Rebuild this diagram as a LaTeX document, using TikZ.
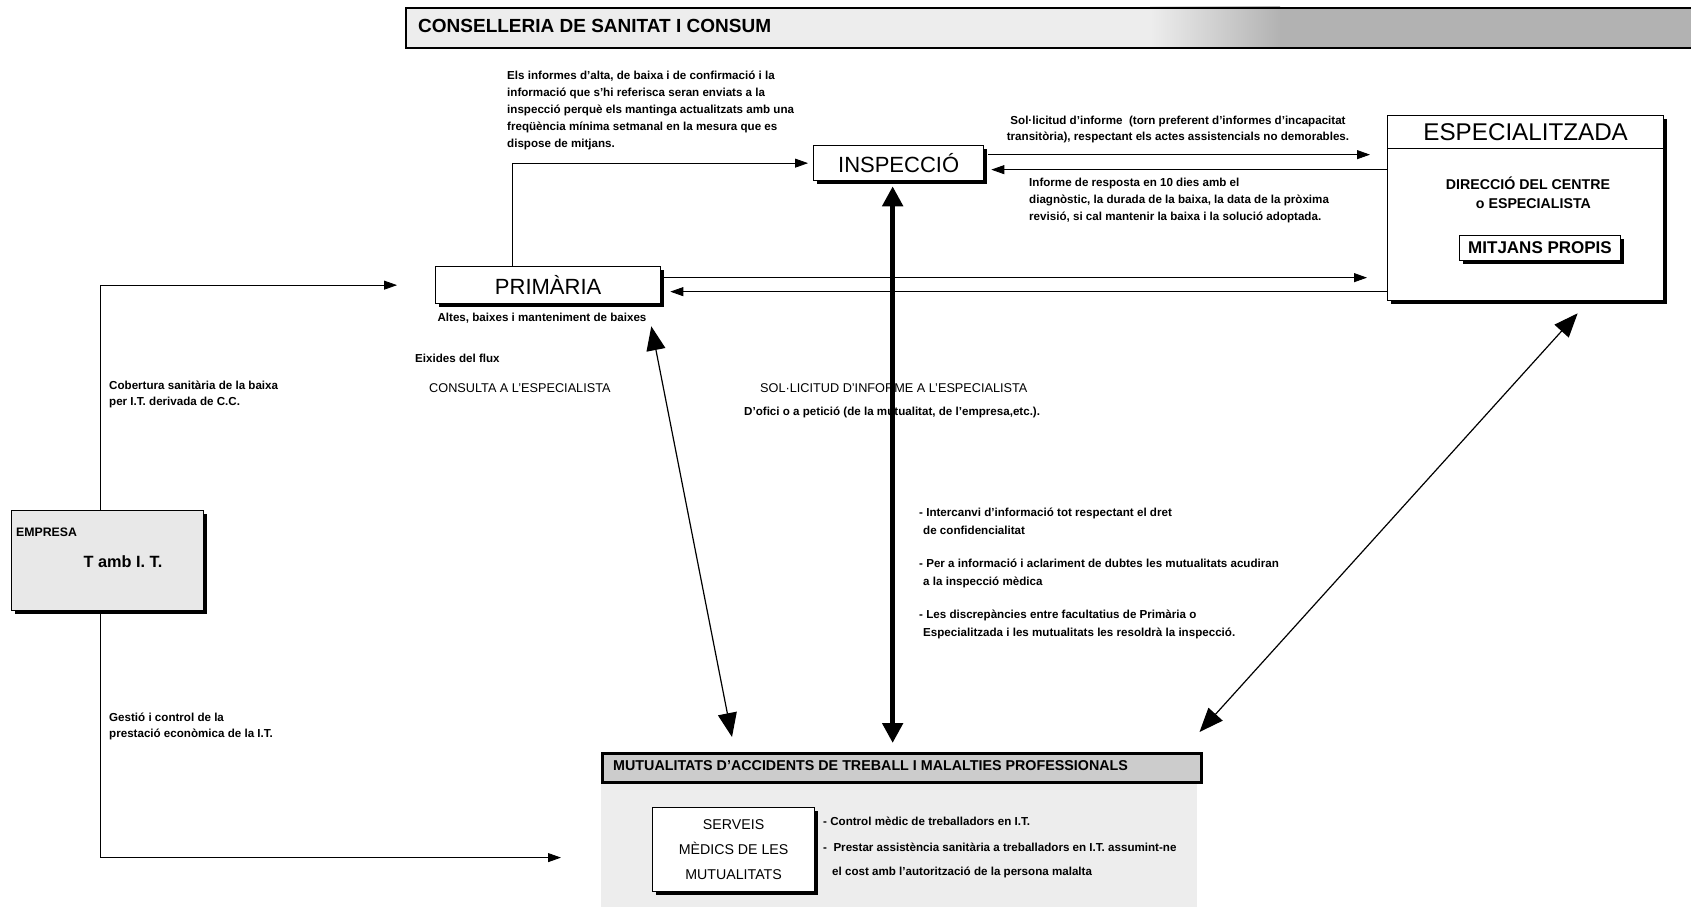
\documentclass[tikz,border=0pt]{standalone}
\usepackage{fontspec}
\setmainfont{Liberation Sans}
\usetikzlibrary{arrows.meta,shadows,calc}
\begin{document}
\begin{tikzpicture}[x=1pt,y=-1pt,
  txt/.style={font=\fontsize{11.6}{17}\selectfont\bfseries, inner sep=0pt, align=left},
  caps/.style={font=\fontsize{12.7}{14}\selectfont, inner sep=0pt},
  shadowed/.style={drop shadow={shadow xshift=3pt, shadow yshift=-3pt, fill=black, opacity=1}},
  bigbox/.style={draw, line width=1.3pt, fill=white, inner sep=0pt, anchor=north west, shadowed},
  arr/.style={-{Triangle[length=13pt,width=9pt]}, line width=0.8pt},
  darr/.style={{Triangle[length=24pt,width=19pt]}-{Triangle[length=24pt,width=19pt]}, line width=1.2pt},
  tarr/.style={{Triangle[length=20pt,width=20pt]}-{Triangle[length=20pt,width=20pt]}, line width=5pt},
]
\useasboundingbox[fill=white] (0,0) rectangle (1691,907);

% ---- top banner
\fill[gray!14] (405,7) rectangle (1691,47);
\shade[left color=gray!14, right color=gray!60] (1150,7) rectangle (1280,47);
\fill[gray!60] (1280,7) rectangle (1691,47);
\node[draw, line width=2pt, anchor=north west, minimum width=1290pt, minimum height=40pt, inner sep=0pt] (cons) at (405,7) {};
\node[font=\fontsize{19}{20}\selectfont\bfseries, anchor=west, inner sep=0pt] (consT) at (418,26) {CONSELLERIA DE SANITAT I CONSUM};

% ---- mutualitats area
\fill[gray!14] (601,781) rectangle (1197,907);
\node[draw, line width=2.5pt, fill=gray!40, anchor=north west, minimum width=599pt, minimum height=29pt, inner sep=0pt] (mut) at (601,752) {};
\node[font=\fontsize{14.3}{15}\selectfont\bfseries, anchor=west, inner sep=0pt] (mutT) at (613,766) {MUTUALITATS D'ACCIDENTS DE TREBALL I MALALTIES PROFESSIONALS};

% ---- boxes
\node[bigbox, minimum width=225pt, minimum height=37pt, font=\fontsize{22}{22}\selectfont] (prim) at (435,266) {PRIMÀRIA};
\node[bigbox, minimum width=170pt, minimum height=35pt, font=\fontsize{22}{22}\selectfont] (insp) at (813,145) {INSPECCIÓ};
\node[bigbox, minimum width=276pt, minimum height=185pt] (esp) at (1387,115) {};
\node[anchor=north, minimum height=33pt, inner sep=0pt, font=\fontsize{24.2}{25}\selectfont] (espT) at (esp.north) {ESPECIALITZADA};
\draw[line width=1pt] (esp.west |- espT.south) -- (esp.east |- espT.south);
\node[font=\fontsize{14.2}{19}\selectfont\bfseries, align=left, inner sep=0pt] (dir) at (1528,193) {DIRECCIÓ DEL CENTRE\\\hspace*{30pt}o ESPECIALISTA};
\node[bigbox, minimum width=161pt, minimum height=25pt, font=\fontsize{17}{17}\selectfont\bfseries, line width=1pt] (mit) at (1459,235) {MITJANS PROPIS};
\node[bigbox, fill=gray!18, minimum width=192pt, minimum height=100pt] (emp) at (11,510) {};
\node[font=\fontsize{12.3}{13}\selectfont\bfseries, anchor=west, inner sep=0pt] (empT) at (16,532) {EMPRESA};
\node[font=\fontsize{16.3}{17}\selectfont\bfseries, inner sep=0pt] (tamb) at (123,562) {T amb I. T.};
\node[bigbox, minimum width=162pt, minimum height=84pt, font=\fontsize{14.2}{25.5}\selectfont, align=center, line width=1.2pt] (serv) at (652,807) {SERVEIS\\MÈDICS DE LES\\MUTUALITATS};

% ---- texts
\node[txt, anchor=north west] (para) at (507,71) {Els informes d'alta, de baixa i de confirmació i la\\informació que s'hi referisca seran enviats a la\\inspecció perquè els mantinga actualitzats amb una\\freqüència mínima setmanal en la mesura que es\\dispose de mitjans.};
\node[txt, align=center, font=\fontsize{11.6}{16}\selectfont\bfseries] (sol) at (1178,129) {Sol·licitud d'informe \ (torn preferent d'informes d'incapacitat\\transitòria), respectant els actes assistencials no demorables.};
\node[txt, anchor=north west] (inf) at (1029,178) {Informe de resposta en 10 dies amb el\\diagnòstic, la durada de la baixa, la data de la pròxima\\revisió, si cal mantenir la baixa i la solució adoptada.};
\node[txt] (altes) at (542,318) {Altes, baixes i manteniment de baixes};
\node[txt, anchor=west] (eix) at (415,358) {Eixides del flux};
\node[caps, anchor=west] (cons2) at (429,388) {CONSULTA A L'ESPECIALISTA};
\node[caps, anchor=west] (sol2) at (760,388) {SOL·LICITUD D'INFORME A L'ESPECIALISTA};
\node[txt, anchor=west] (ofici) at (744,412) {D'ofici o a petició (de la mutualitat, de l'empresa,etc.).};
\node[txt, anchor=north west, font=\fontsize{11.6}{16}\selectfont\bfseries] (cob) at (109,381) {Cobertura sanitària de la baixa\\per I.T. derivada de C.C.};
\node[txt, anchor=north west, font=\fontsize{11.6}{16}\selectfont\bfseries] (gest) at (109,713) {Gestió i control de la\\prestació econòmica de la I.T.};
\node[txt, anchor=north west, font=\fontsize{11.6}{18}\selectfont\bfseries] (b1) at (919,508) {- Intercanvi d'informació tot respectant el dret\\\hspace*{4pt}de confidencialitat};
\node[txt, anchor=north west, font=\fontsize{11.6}{18}\selectfont\bfseries] (b2) at (919,559) {- Per a informació i aclariment de dubtes les mutualitats acudiran\\\hspace*{4pt}a la inspecció mèdica};
\node[txt, anchor=north west, font=\fontsize{11.6}{18}\selectfont\bfseries] (b3) at (919,610) {- Les discrepàncies entre facultatius de Primària o\\\hspace*{4pt}Especialitzada i les mutualitats les resoldrà la inspecció.};
\node[txt, anchor=west] (s1) at (823,821) {- Control mèdic de treballadors en I.T.};
\node[txt, anchor=west] (s2) at (823,847) {- \ Prestar assistència sanitària a treballadors en I.T. assumint-ne};
\node[txt, anchor=west] (s3) at (832,872) {el cost amb l'autorització de la persona malalta};

% ---- connectors
\draw[arr] ([xshift=-7pt]emp.north) |- ([xshift=-38pt]prim.west);
\draw[arr] ([xshift=-7pt]emp.south) |- ([xshift=-91pt,yshift=-8pt]serv.west);
\draw[arr] ([xshift=-36pt]prim.north) |- ([xshift=-5pt]insp.west);
\coordinate (ia) at ([yshift=8.5pt]insp.east);
\coordinate (ib) at ([yshift=-6.5pt]insp.east);
\draw[arr, shorten >=17pt] ([xshift=4pt]ia) -- (ia -| esp.west);
\draw[arr, shorten >=7pt] (ib -| esp.west) -- (ib);
\coordinate (pa) at ([yshift=7.5pt]prim.east);
\coordinate (pb) at ([yshift=-6.5pt]prim.east);
\draw[arr, shorten >=20pt] (pa) -- (pa -| esp.west);
\draw[arr, shorten >=9pt] (pb -| esp.west) -- (pb);
\draw[tarr, shorten <=5pt, shorten >=9pt] ([xshift=-6pt]insp.south) -- ([xshift=-6pt]insp.south |- mut.north);
\draw[darr] ([xshift=-10pt,yshift=-22pt]prim.south east) -- ([xshift=131pt,yshift=15pt]mut.north west);
\draw[darr] ([xshift=52pt,yshift=-12pt]esp.south) -- ([xshift=-3pt,yshift=20pt]mut.north east);
\end{tikzpicture}
\end{document}
